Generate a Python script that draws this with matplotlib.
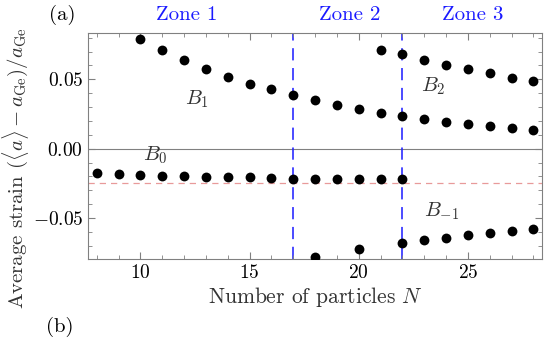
import numpy as np
import matplotlib
matplotlib.use('Agg')
import matplotlib.pyplot as plt
from matplotlib.ticker import MultipleLocator, FuncFormatter

plt.rcParams['font.family'] = 'serif'
plt.rcParams['font.serif'] = ['cmr10']
plt.rcParams['mathtext.fontset'] = 'cm'
plt.rcParams['axes.formatter.use_mathtext'] = True

# data
n_b1 = [10, 11, 12, 13, 14, 15, 16, 17, 18, 19, 20, 21, 22, 23, 24, 25, 26, 27, 28]
b1 = [0.079, 0.071, 0.064, 0.0576, 0.052, 0.047, 0.0428, 0.0385, 0.035, 0.0317,
      0.0288, 0.026, 0.0236, 0.0216, 0.0195, 0.0176, 0.0161, 0.0147, 0.0133]
n_b2 = [21, 22, 23, 24, 25, 26, 27, 28]
b2 = [0.071, 0.068, 0.064, 0.0605, 0.0572, 0.0543, 0.0512, 0.0488]
n_b0 = [8, 9, 10, 11, 12, 13, 14, 15, 16, 17, 18, 19, 20, 21, 22]
b0 = [-0.0177, -0.0185, -0.019, -0.0197, -0.020, -0.0203, -0.0205, -0.0206,
      -0.0208, -0.0215, -0.0216, -0.0217, -0.0217, -0.0218, -0.0218]
n_bm1 = [18, 20, 22, 23, 24, 25, 26, 27, 28]
bm1 = [-0.0778, -0.0723, -0.0677, -0.0658, -0.0641, -0.0624, -0.0607, -0.0593, -0.0581]
ref_level = -0.025
zone_edges = [17, 22]
zone_names = ['Zone 1', 'Zone 2', 'Zone 3']
zone_pos = [12.1, 19.6, 25.2]

fig = plt.figure(figsize=(5.47, 3.44), dpi=100)
ax = fig.add_axes([0.161, 0.247, 0.830, 0.657])

ax.axhline(0, color='#808080', lw=0.8, zorder=1)
ax.axhline(ref_level, color='#e89a9a', lw=0.9, dashes=(5, 4), zorder=1)
for e in zone_edges:
    ax.axvline(e, color='#1a1aff', lw=1.1, dashes=(8, 5), zorder=1)

for xs, ys in [(n_b1, b1), (n_b2, b2), (n_b0, b0), (n_bm1, bm1)]:
    ax.scatter(xs, ys, s=50, color='black', zorder=3, linewidths=0)

ax.text(12.6, 0.036, r'$B_1$', fontsize=15, color='#333333', ha='center', va='center')
ax.text(23.4, 0.045, r'$B_2$', fontsize=15, color='#333333', ha='center', va='center')
ax.text(10.7, -0.0045, r'$B_0$', fontsize=15, color='#333333', ha='center', va='center')
ax.text(23.8, -0.045, r'$B_{-1}$', fontsize=15, color='#333333', ha='center', va='center')

for name, xp in zip(zone_names, zone_pos):
    ax.text(xp, 1.08, name, transform=ax.get_xaxis_transform(), color='#1a1aff',
            fontsize=15, ha='center', va='center')

ax.set_xlim(7.6, 28.4)
ax.set_ylim(-0.0795, 0.0834)
ax.xaxis.set_major_locator(MultipleLocator(5))
ax.xaxis.set_minor_locator(MultipleLocator(1))
ax.yaxis.set_major_locator(MultipleLocator(0.05))
ax.yaxis.set_minor_locator(MultipleLocator(0.01))
ax.yaxis.set_major_formatter(FuncFormatter(lambda v, p: '$%.2f$' % v if abs(v) > 1e-9 else '$0.00$'))
ax.xaxis.set_major_formatter(FuncFormatter(lambda v, p: '$%d$' % v))
ax.tick_params(which='both', direction='in', top=True, right=True, color='#808080', labelsize=14)
ax.tick_params(which='major', length=5)
ax.tick_params(which='minor', length=3)
for s in ax.spines.values():
    s.set_color('#808080')

ax.set_xlabel(r'Number of particles $N$', fontsize=15.5, color='#333333', labelpad=2)
ax.set_ylabel(r'Average strain $(\langle a\rangle - a_{\mathrm{Ge}})/a_{\mathrm{Ge}}$',
              fontsize=15, color='#333333')
ax.yaxis.set_label_coords(-0.125, 0.40)

fig.text(62 / 547, 1 - 15 / 344, '(a)', fontsize=15, ha='center', va='center')
fig.text(60 / 547, 1 - 327 / 344, '(b)', fontsize=15, ha='center', va='center')

fig.savefig('out.png', dpi=100)
